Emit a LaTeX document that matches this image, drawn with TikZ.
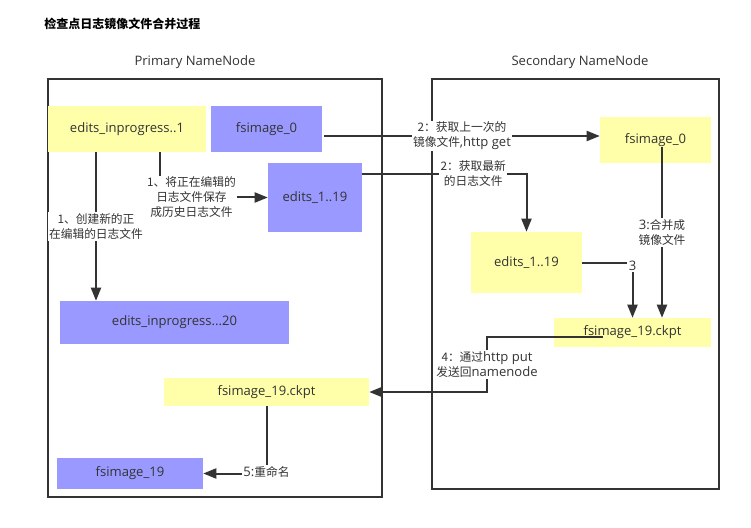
\documentclass[tikz,border=0pt]{standalone}
\usepackage{fontspec}
\setmainfont{Open Sans}
\newfontfamily\cjk{Noto Sans CJK SC}
\usetikzlibrary{arrows.meta,calc}
\definecolor{yel}{HTML}{FFFFAA}
\definecolor{blu}{HTML}{9999FF}
\definecolor{ink}{HTML}{333333}
\newcommand\zhtxt[1]{{\cjk\fontsize{8.8}{11.25}\selectfont #1}}
\begin{document}
\begin{tikzpicture}[x=0.75pt,y=-0.75pt,
  cont/.style={draw=ink,line width=1.5pt},
  fbox/.style={inner sep=0pt,text=ink,font=\fontsize{9.8}{11}\selectfont},
  ybox/.style={fbox,fill=yel},
  bbox/.style={fbox,fill=blu},
  sz/.style 2 args={minimum width=#1*0.75pt,minimum height=#2*0.75pt},
  conn/.style={draw=ink,line width=1.5pt},
  arr/.style={conn,-{Triangle[length=9.75pt,width=7.5pt]}},
  lbl/.style={fill=white,inner sep=1pt,align=center,text=ink,font=\fontsize{9.8}{11.25}\selectfont},
  hdr/.style={text=ink,font=\fontsize{9.8}{11}\selectfont}]
\fill[white] (0,0) rectangle (751,528);
\useasboundingbox (0,0) rectangle (751,528);

\node[anchor=west,inner sep=0pt,font=\cjk\bfseries\fontsize{9}{11}\selectfont] (title) at (44,24) {检查点日志镜像文件合并过程};
\node[hdr] (ph) at (195,62) {Primary NameNode};
\node[hdr] (sh) at (580,62) {Secondary NameNode};

\draw[cont] (48,79) rectangle (382,497);
\draw[cont] (432,79) rectangle (719,489);

\node[ybox,sz={158}{46}] (ein1) at (127,129) {edits\_inprogress..1};
\node[bbox,sz={111}{46}] (fs0l) at (266.5,129) {fsimage\_0};
\node[bbox,sz={94}{69}] (e19l) at (315,197.5) {edits\_1..19};
\node[bbox,sz={229}{43}] (ein20) at (174.5,322.5) {edits\_inprogress...20};
\node[ybox,sz={205}{28}] (ckl) at (266.5,392) {fsimage\_19.ckpt};
\node[bbox,sz={146}{31}] (fs19) at (130,473.5) {fsimage\_19};
\node[ybox,sz={111}{46}] (fs0r) at (655.5,140) {fsimage\_0};
\node[ybox,sz={111}{61}] (e19r) at (526.5,262.5) {edits\_1..19};
\node[ybox,sz={157}{29}] (ckr) at (632.5,332.5) {fsimage\_19.ckpt};

% 1: new edits in progress
\draw[arr] ($(ein1.south)+(-31,0)$) coordinate (e1s) -- node[lbl]{\zhtxt{1、创建新的正}\\\zhtxt{在编辑的日志文件}} (e1s |- ein20.north);
% 1: save as history edits
\draw[arr] ($(ein1.south)+(33,0)$) |- node[lbl,pos=0.646]{\zhtxt{1、将正在编辑的}\\\zhtxt{日志文件保存}\\\zhtxt{成历史日志文件}} (e19l.west);
% 2: fetch fsimage
\draw[arr] ($(fs0l.east)+(2,7)$) coordinate (e3s) -- node[lbl]{\zhtxt{2：获取上一次的}\\\zhtxt{镜像文件},http get} (e3s -| fs0r.west);
% 2: fetch edits
\draw[arr] ($(e19l.east)+(0,-23.5)$) -| node[lbl,pos=0.338]{\zhtxt{2：获取最新}\\\zhtxt{的日志文件}} (e19r.north);
% 3: merge
\draw[arr] ($(fs0r.center)+(6.5,7)$) coordinate (e5s) -- node[lbl]{3:\zhtxt{合并成}\\\zhtxt{镜像文件}} (e5s |- ckr.north);
\draw[arr] (e19r.east) -| node[lbl,pos=0.527]{3} (ckr.north);
% 4: put back
\draw[arr] ($(ckr.center)+(-29.5,4.5)$) coordinate (e7s) -- ++(-116,0) coordinate (e7c) -- node[lbl]{\zhtxt{4：通过}http put\\\zhtxt{发送回}namenode} (e7c |- ckl.east) -- (ckl.east);
% 5: rename
\draw[arr] (ckl.south) |- node[lbl,pos=0.49]{5:\zhtxt{重命名}} (fs19.east);
\end{tikzpicture}
\end{document}
